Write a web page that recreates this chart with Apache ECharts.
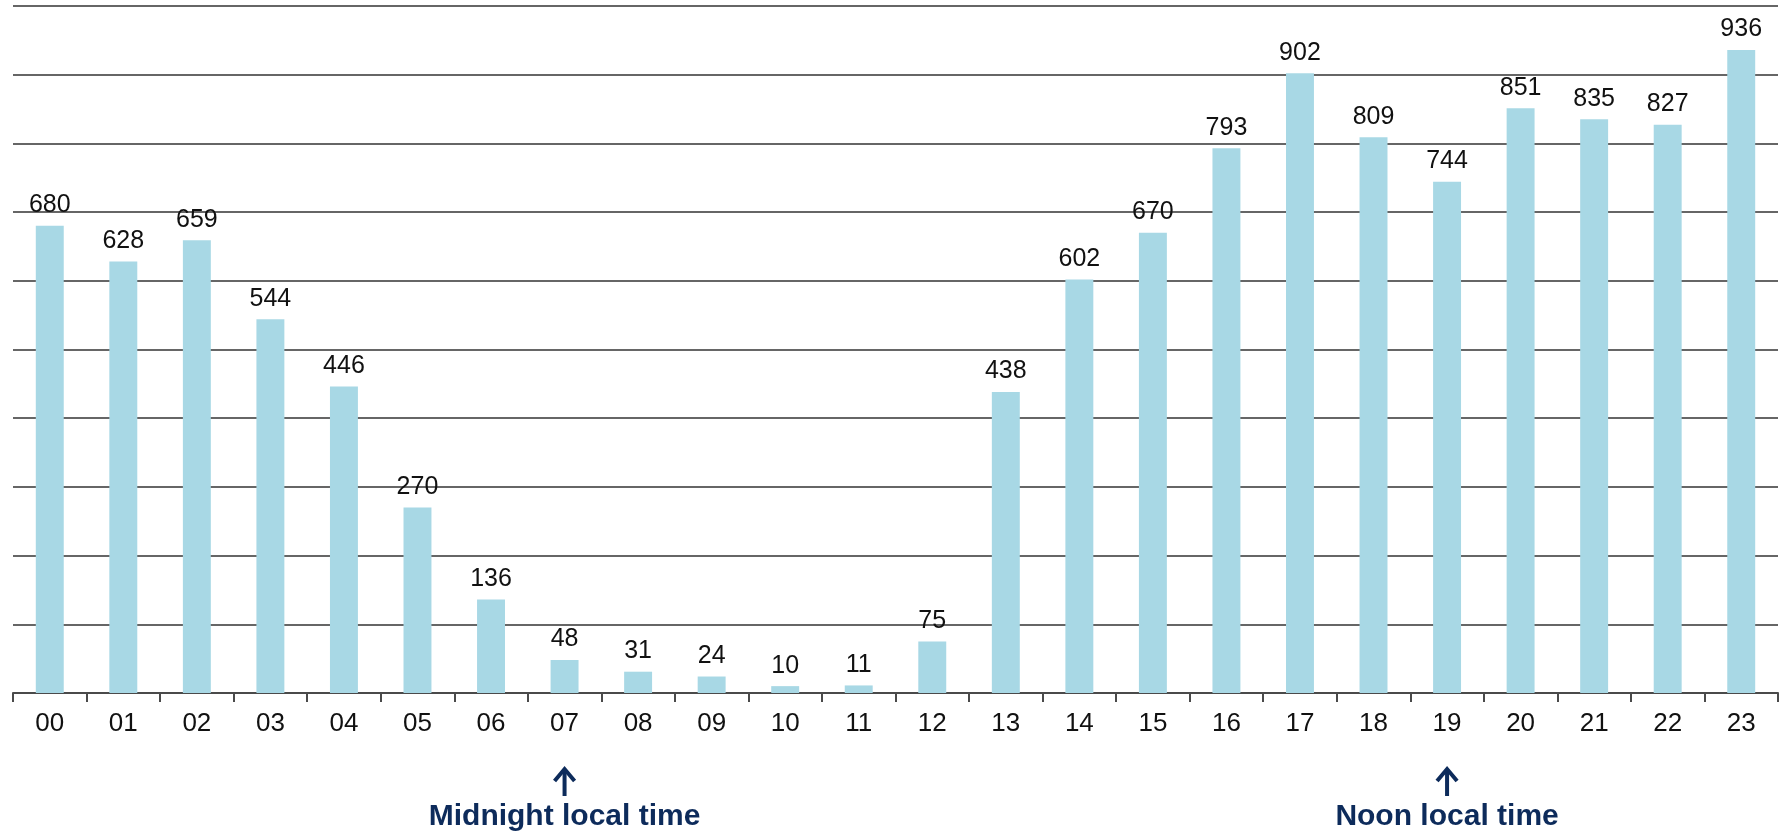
<!DOCTYPE html>
<html>
<head>
<meta charset="utf-8">
<script src="https://cdn.jsdelivr.net/npm/echarts@6/dist/echarts.min.js"></script>
<style>
    html, body {margin: 0; padding: 0; background: #fff;}
    #chart {width: 1779px; height: 835px;}
</style>
</head>
<body>
<div id="chart"></div>
<script>
    // hours (x axis) and counts per hour
    var hours = ['00', '01', '02', '03', '04', '05', '06', '07', '08', '09', '10', '11',
        '12', '13', '14', '15', '16', '17', '18', '19', '20', '21', '22', '23'];
    var counts = [680, 628, 659, 544, 446, 270, 136, 48, 31, 24, 10, 11,
        75, 438, 602, 670, 793, 902, 809, 744, 851, 835, 827, 936];
    // notes under the axis
    var notes = [
        {hour: '07', text: 'Midnight local time'},
        {hour: '19', text: 'Noon local time'}
    ];

    var chart = echarts.init(document.getElementById('chart'));
    var option = {
        animation: false,
        grid: {left: 13, right: 1, top: 6, bottom: 142},
        xAxis: {
            type: 'category',
            data: hours,
            axisLine: {lineStyle: {color: '#4a4a4a', width: 2}},
            axisTick: {show: true, interval: 0, length: 9, lineStyle: {color: '#4a4a4a', width: 2}},
            axisLabel: {
                interval: 0,
                margin: 18,
                color: '#111',
                fontFamily: 'Liberation Sans',
                fontSize: 26
            }
        },
        yAxis: {
            type: 'value',
            min: 0,
            max: 1000,
            interval: 100,
            axisLabel: {show: false},
            axisLine: {show: false},
            axisTick: {show: false},
            splitLine: {lineStyle: {color: '#333', width: 1.6}}
        },
        series: [{
            type: 'bar',
            data: counts,
            barWidth: '38%',
            itemStyle: {color: '#a8d8e5'},
            label: {
                show: true,
                position: 'top',
                distance: 8,
                color: '#111',
                fontFamily: 'Liberation Sans',
                fontSize: 25
            }
        }]
    };
    chart.setOption(option);

    // arrows + notes, placed on the category centres
    var elements = [];
    notes.forEach(function (n) {
        var x = chart.convertToPixel({xAxisIndex: 0}, n.hour);
        elements.push({
            type: 'line',
            shape: {x1: x, y1: 796, x2: x, y2: 771},
            style: {stroke: '#0d2b5b', lineWidth: 4}
        });
        elements.push({
            type: 'polyline',
            shape: {points: [[x - 10, 781], [x, 769], [x + 10, 781]]},
            style: {stroke: '#0d2b5b', lineWidth: 4, fill: null}
        });
        elements.push({
            type: 'text',
            x: x,
            y: 817,
            style: {
                text: n.text,
                fill: '#0d2b5b',
                font: 'bold 30px "Liberation Sans"',
                textAlign: 'center',
                textVerticalAlign: 'middle'
            }
        });
    });
    chart.setOption({graphic: elements});
</script>
</body>
</html>
